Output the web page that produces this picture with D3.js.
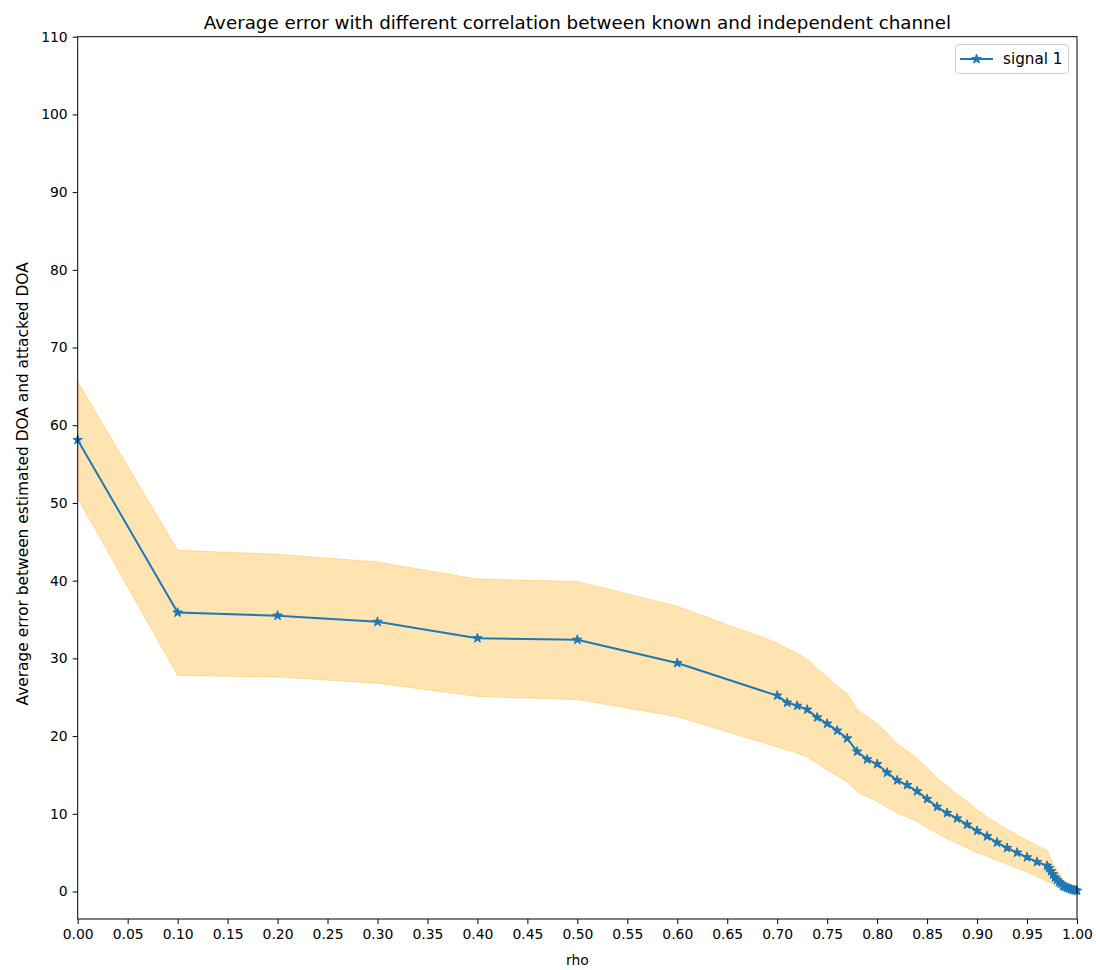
<!DOCTYPE html>
<html>
<head>
<meta charset="utf-8">
<script src="https://cdn.jsdelivr.net/npm/d3@7"></script>
<style>
  html, body { margin: 0; padding: 0; background: #fff; }
  svg text { font-family: "DejaVu Sans", sans-serif; }
</style>
</head>
<body>
<svg id="chart" width="1096" height="970"></svg>
<script>
// ---- data ----
const rho = [0, 0.1, 0.2, 0.3, 0.4, 0.5, 0.6, 0.7,
  0.71, 0.72, 0.73, 0.74, 0.75, 0.76, 0.77, 0.78, 0.79, 0.80,
  0.81, 0.82, 0.83, 0.84, 0.85, 0.86, 0.87, 0.88, 0.89, 0.90,
  0.91, 0.92, 0.93, 0.94, 0.95, 0.96, 0.97,
  0.972, 0.974, 0.976, 0.978, 0.980, 0.982, 0.984, 0.986, 0.988,
  0.990, 0.992, 0.994, 0.996, 0.998, 1.0];
const meanError = [58.1, 35.9, 35.5, 34.7, 32.6, 32.4, 29.4, 25.2,
  24.3, 23.9, 23.4, 22.4, 21.6, 20.7, 19.7, 18.0, 17.0, 16.4,
  15.3, 14.3, 13.7, 12.9, 11.9, 10.9, 10.1, 9.4, 8.6, 7.8,
  7.1, 6.3, 5.6, 5.0, 4.4, 3.8, 3.3,
  3.0, 2.6, 2.2, 1.8, 1.5, 1.2, 1.0, 0.7, 0.6,
  0.5, 0.4, 0.3, 0.2, 0.15, 0.1];
const upperBand = [65.6, 43.9, 43.4, 42.4, 40.2, 39.9, 36.7, 32.0,
  31.3, 30.7, 29.9, 28.7, 27.6, 26.4, 25.5, 23.4, 22.5, 21.6,
  20.4, 19.0, 18.1, 17.1, 15.9, 14.6, 13.6, 12.5, 11.6, 10.5,
  9.6, 8.8, 8.0, 7.3, 6.6, 5.9, 5.3,
  4.7, 4.2, 3.6, 3.2, 2.8, 2.4, 2.0, 1.6, 1.3,
  1.0, 0.7, 0.4, 0.2, 0.1, 0.0];
const lowerBand = [50.6, 27.8, 27.6, 26.8, 25.1, 24.7, 22.5, 18.6,
  18.2, 17.8, 17.3, 16.5, 15.6, 14.9, 14.1, 12.8, 12.2, 11.6,
  10.8, 10.1, 9.6, 9.0, 8.2, 7.5, 6.8, 6.2, 5.6, 5.0,
  4.5, 4.0, 3.5, 3.0, 2.5, 1.9, 1.3,
  1.2, 1.0, 0.9, 0.7, 0.6, 0.4, 0.3, 0.1, 0.0,
  -0.1, -0.2, -0.3, -0.4, -0.5, -0.6];
const xTicks = d3.range(0, 21).map(i => i * 0.05);
const yTicks = [0, 10, 20, 30, 40, 50, 60, 70, 80, 90, 100, 110];
const seriesName = "signal 1";
const titleText = "Average error with different correlation between known and independent channel";
const xLabel = "rho";
const yLabel = "Average error between estimated DOA and attacked DOA";

// ---- layout ----
const margin = { left: 77.7, top: 36.7, right: 1096 - 1077, bottom: 970 - 919 };
const W = 1096, H = 970;
const iw = W - margin.left - margin.right;
const ih = H - margin.top - margin.bottom;

const svg = d3.select("#chart");
const g = svg.append("g").attr("transform", `translate(${margin.left},${margin.top})`);

const x = d3.scaleLinear().domain([0, 1]).range([0, iw]);
const y = d3.scaleLinear().domain([-3.54, 110]).range([ih, 0]);

const data = rho.map((r, i) => ({ r, m: meanError[i], hi: upperBand[i], lo: lowerBand[i] }));

svg.append("defs").append("clipPath").attr("id", "clip")
  .append("rect").attr("width", iw).attr("height", ih);

const plot = g.append("g").attr("clip-path", "url(#clip)");

// band
plot.append("path")
  .datum(data)
  .attr("d", d3.area().x(d => x(d.r)).y0(d => y(d.lo)).y1(d => y(d.hi)))
  .attr("fill", "orange").attr("fill-opacity", 0.3)
  .attr("stroke", "orange").attr("stroke-opacity", 0.3).attr("stroke-width", 1);

// line
const blue = "#1f77b4";
plot.append("path")
  .datum(data)
  .attr("d", d3.line().x(d => x(d.r)).y(d => y(d.m)))
  .attr("fill", "none").attr("stroke", blue).attr("stroke-width", 2);

const star = d3.symbol().type(d3.symbolStar).size(28);
g.append("g").selectAll("path").data(data).join("path")
  .attr("d", star)
  .attr("transform", d => `translate(${x(d.r)},${y(d.m)})`)
  .attr("fill", blue).attr("stroke", blue).attr("stroke-width", 1);

// axes
const xAxis = d3.axisBottom(x).tickValues(xTicks).tickFormat(d3.format(".2f")).tickSizeOuter(0).tickSize(5).tickPadding(5);
const yAxis = d3.axisLeft(y).tickValues(yTicks).tickFormat(d3.format("d")).tickSizeOuter(0).tickSize(5).tickPadding(5);

const gx = g.append("g").attr("transform", `translate(0,${ih})`).call(xAxis);
const gy = g.append("g").call(yAxis);
[gx, gy].forEach(a => {
  a.select(".domain").remove();
  a.selectAll("text").attr("font-size", 13.9).attr("fill", "#000").attr("font-family", "DejaVu Sans");
  a.selectAll("line").attr("stroke", "#000");
});

// frame
g.append("rect").attr("x", 0).attr("y", 0).attr("width", iw).attr("height", ih)
  .attr("fill", "none").attr("stroke", "#000").attr("stroke-width", 1);

// title
svg.append("text")
  .attr("x", margin.left + iw / 2).attr("y", 28.5)
  .attr("text-anchor", "middle").attr("font-size", 18.3).attr("fill", "#000")
  .text(titleText);

// x label
svg.append("text")
  .attr("x", margin.left + iw / 2).attr("y", 965)
  .attr("text-anchor", "middle").attr("font-size", 13.9).attr("fill", "#000")
  .text(xLabel);

// y label
svg.append("text")
  .attr("transform", `translate(28,${margin.top + ih / 2 + 6}) rotate(-90)`)
  .attr("text-anchor", "middle").attr("font-size", 15.4).attr("fill", "#000")
  .text(yLabel);

// legend
const lg = svg.append("g");
lg.append("rect").attr("x", 955.5).attr("y", 44.5).attr("width", 113).attr("height", 29)
  .attr("rx", 3).attr("fill", "#fff").attr("fill-opacity", 0.8)
  .attr("stroke", "#cccccc").attr("stroke-width", 1);
lg.append("line").attr("x1", 960).attr("x2", 993).attr("y1", 59).attr("y2", 59)
  .attr("stroke", blue).attr("stroke-width", 2);
lg.append("path").attr("d", star).attr("transform", "translate(976.5,59)")
  .attr("fill", blue).attr("stroke", blue).attr("stroke-width", 1);
lg.append("text").attr("x", 1003).attr("y", 59).attr("dy", "0.35em")
  .attr("font-size", 15.2).attr("fill", "#000").text(seriesName);
</script>
</body>
</html>
